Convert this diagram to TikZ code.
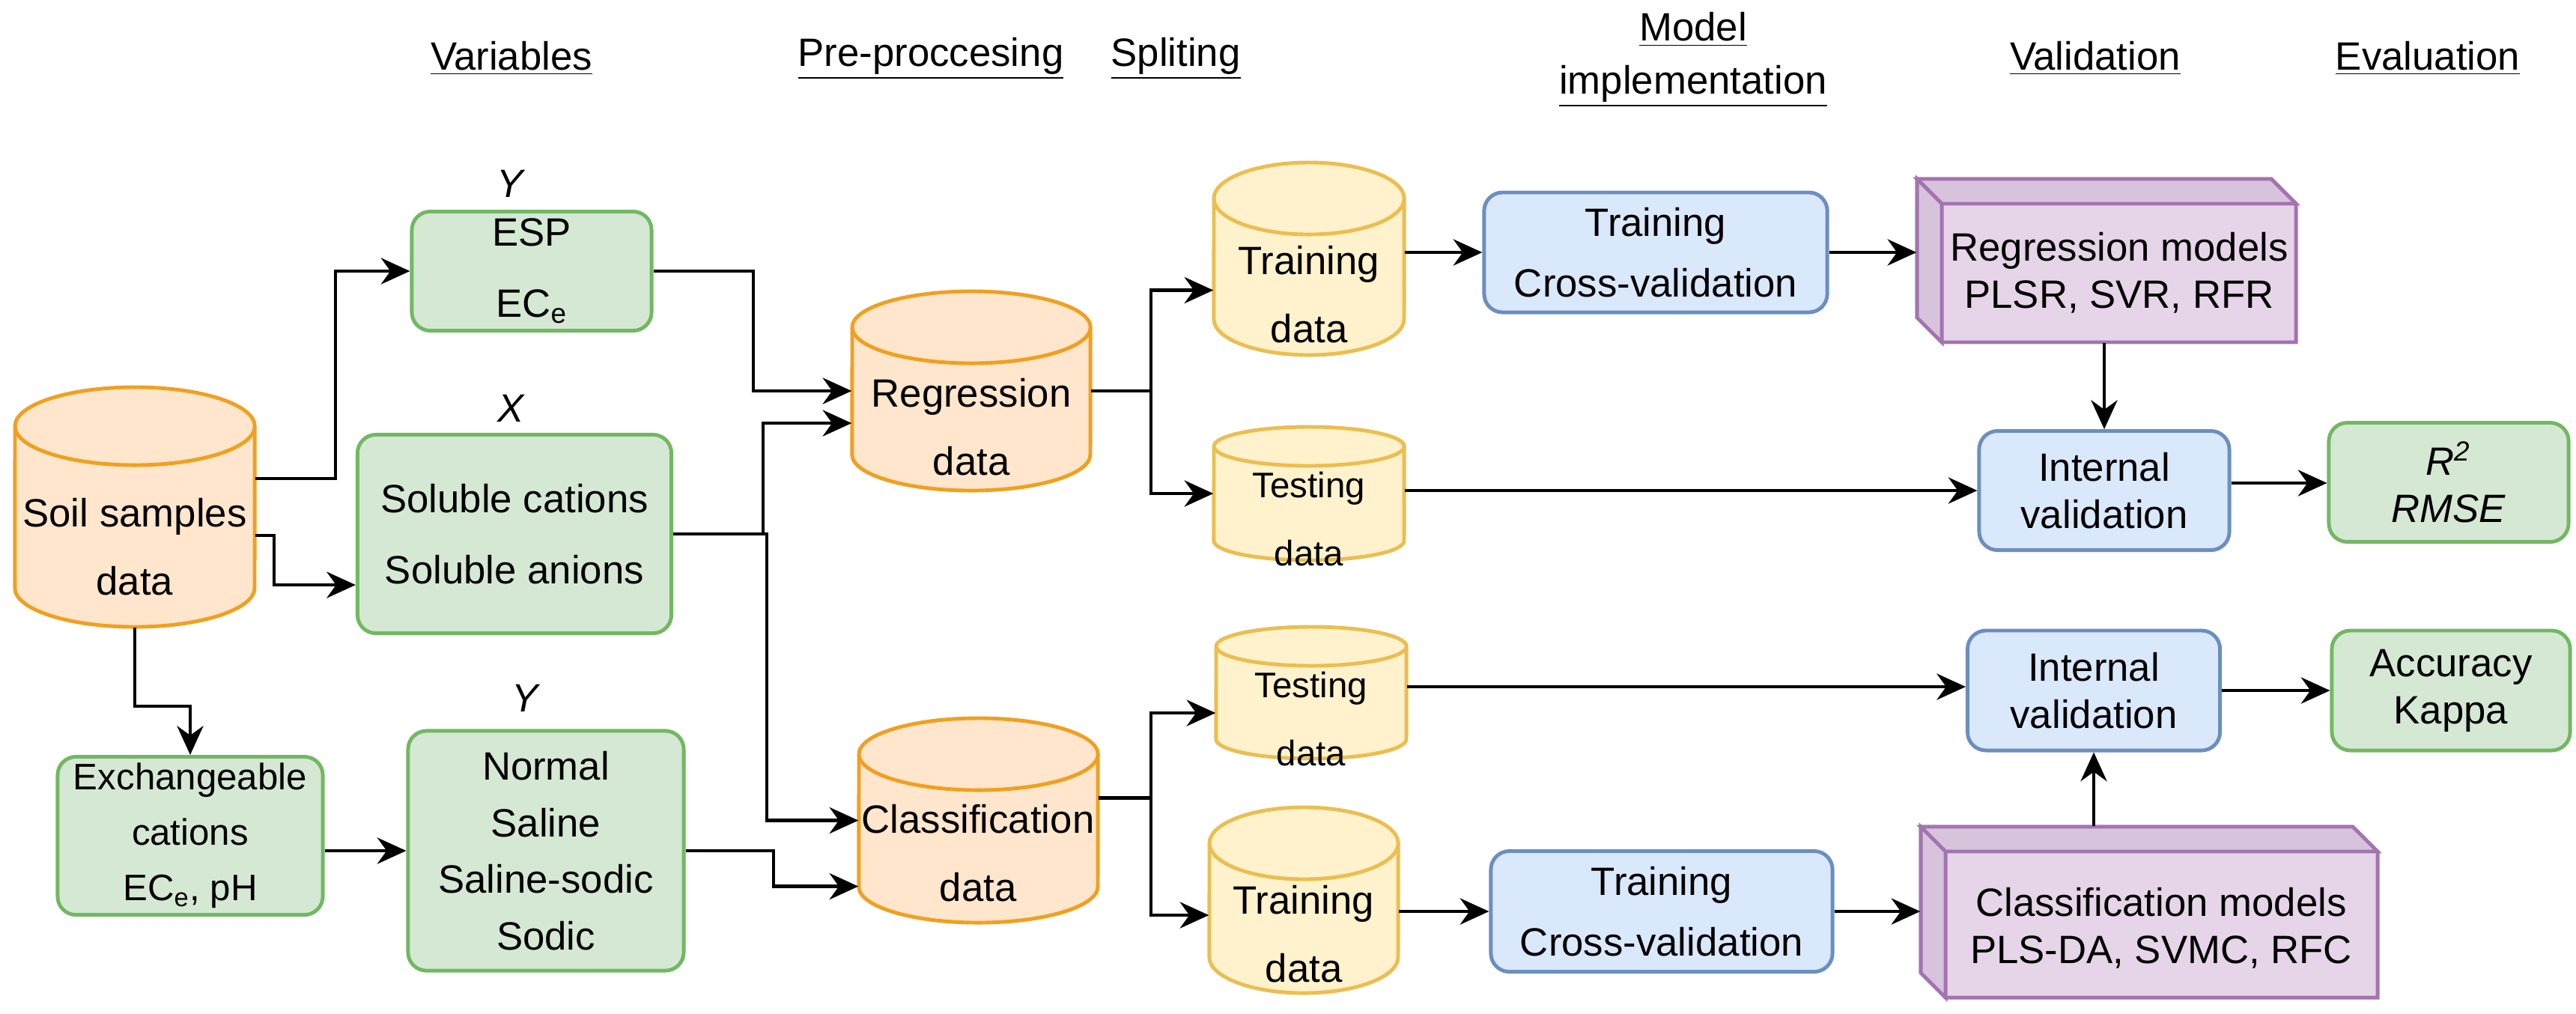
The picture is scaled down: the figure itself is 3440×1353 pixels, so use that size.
\documentclass[tikz,border=0pt]{standalone}
\usepackage{fontspec}
\setmainfont{Liberation Sans}
\usetikzlibrary{arrows.meta}
\definecolor{ofill}{HTML}{FFE6CC}\definecolor{oline}{HTML}{F0A020}
\definecolor{yfill}{HTML}{FFF2CC}\definecolor{yline}{HTML}{EBBE50}
\definecolor{gfill}{HTML}{D5E8D4}\definecolor{gline}{HTML}{72B862}
\definecolor{bfill}{HTML}{DAE8FC}\definecolor{bline}{HTML}{6C8EBF}
\definecolor{pfill}{HTML}{E6D5E8}\definecolor{pdark}{HTML}{D8C3DC}\definecolor{pline}{HTML}{A374B0}
\newcommand\dbcyl[8]{% name x1 y1 x2 y2 ry style textcenter-y ; text via #9 not allowed -> separate
  \pgfmathsetmacro\crx{(#4-#2)/2*0.28453}
  \pgfmathsetmacro\cry{#6*0.28453}
  \filldraw[#7,line width=1.4pt] (#2,-#3-#6) arc[start angle=180,end angle=0,x radius=\crx pt,y radius=\cry pt]
     -- (#4,-#5+#6) arc[start angle=0,end angle=-180,x radius=\crx pt,y radius=\cry pt] -- cycle;
  \draw[#7,line width=1.4pt] (#2,-#3-#6) arc[start angle=180,end angle=360,x radius=\crx pt,y radius=\cry pt];
  \node[draw=none,inner sep=0,minimum width={(#4-#2)*0.01cm},minimum height={(#5-#3)*0.01cm}] (#1) at ({(#2+#4)/2},{-(#3+#5)/2}) {};
}
\newcommand\mycube[6]{% name x1 y1 x2 y2 d
  \filldraw[draw=pline,fill=pfill,line width=1.4pt] (#2,-#3) -- (#4-#6,-#3) -- (#4,-#3-#6) -- (#4,-#5) -- (#2+#6,-#5) -- (#2,-#5+#6) -- cycle;
  \filldraw[draw=pline,fill=pdark,line width=1.4pt] (#2,-#3) -- (#4-#6,-#3) -- (#4,-#3-#6) -- (#2+#6,-#3-#6) -- cycle;
  \filldraw[draw=pline,fill=pdark,line width=1.4pt] (#2,-#3) -- (#2+#6,-#3-#6) -- (#2+#6,-#5) -- (#2,-#5+#6) -- cycle;
  \node[draw=none,inner sep=0,minimum width={(#4-#2)*0.01cm},minimum height={(#5-#3)*0.01cm}] (#1) at ({(#2+#4)/2},{-(#3+#5)/2}) {};
}
\begin{document}
\begin{tikzpicture}[x=0.01cm,y=0.01cm,
  every node/.style={font=\fontsize{15}{22}\selectfont},
  box/.style={rounded corners=7pt,line width=1.4pt,align=center,inner sep=0},
  gbox/.style={box,draw=gline,fill=gfill},
  bbox/.style={box,draw=bline,fill=bfill},
  txt/.style={align=center,inner sep=0},
  arr/.style={line width=1.2pt,-{Stealth[length=11pt,width=10pt]}},
  hdr/.style={align=center,inner sep=0}]
\useasboundingbox (0,0) rectangle (3440,-1353);
% headers
\node[hdr] (h1) at (683,-78) {\underline{Variables}};
\node[hdr] (h2) at (1243,-78) {\underline{Pre-proccesing}};
\node[hdr] (h3) at (1570,-78) {\underline{Spliting}};
\node[hdr] (h4) at (2261,-80) {\underline{Model}\\[-2pt]\underline{implementation}};
\node[hdr] (h5) at (2798,-78) {\underline{Validation}};
\node[hdr] (h6) at (3242,-78) {\underline{Evaluation}};
% labels
\node[txt] (ly1) at (683,-245) {\textit{Y}};
\node[txt] (lx) at (683,-545) {\textit{X}};
\node[txt] (ly2) at (703,-932) {\textit{Y}};
% cylinders
\dbcyl{soil}{20}{517}{340}{837}{52}{draw=oline,fill=ofill}{}
\node[txt,font=\fontsize{15}{26}\selectfont] (soilt) at (180,-730) {Soil samples\\data};
\dbcyl{reg}{1138}{389}{1456}{655}{48}{draw=oline,fill=ofill}{}
\node[txt,font=\fontsize{15}{26}\selectfont] (regt) at (1297,-570) {Regression\\data};
\dbcyl{cls}{1147}{959}{1466}{1232}{48}{draw=oline,fill=ofill}{}
\node[txt,font=\fontsize{15}{26}\selectfont] (clst) at (1306,-1139) {Classification\\data};
\dbcyl{tr1}{1621}{217}{1875}{474}{48}{draw=yline,fill=yfill}{}
\node[txt,font=\fontsize{15}{26}\selectfont] (tr1t) at (1748,-393) {Training\\data};
\dbcyl{te1}{1621}{570}{1875}{748}{26}{draw=yline,fill=yfill}{}
\node[txt,font=\fontsize{13.5}{26}\selectfont] (te1t) at (1748,-693) {Testing\\data};
\dbcyl{te2}{1624}{837}{1878}{1013}{26}{draw=yline,fill=yfill}{}
\node[txt,font=\fontsize{13.5}{26}\selectfont] (te2t) at (1751,-960) {Testing\\data};
\dbcyl{tr2}{1615}{1078}{1867}{1326}{48}{draw=yline,fill=yfill}{}
\node[txt,font=\fontsize{15}{26}\selectfont] (tr2t) at (1741,-1247) {Training\\data};
% boxes
\node[gbox,minimum width=3.2cm,minimum height=1.59cm,font=\fontsize{15}{27}\selectfont] (esp) at (710,-362) {ESP\\EC\textsubscript{e}};
\node[gbox,minimum width=4.19cm,minimum height=2.65cm,font=\fontsize{15}{27}\selectfont] (xbox) at (687,-713) {Soluble cations\\Soluble anions};
\node[gbox,minimum width=3.54cm,minimum height=2.11cm,font=\fontsize{14}{21}\selectfont] (exch) at (254,-1116) {Exchangeable\\cations\\EC\textsubscript{e}, pH};
\node[gbox,minimum width=3.68cm,minimum height=3.2cm,font=\fontsize{15}{21.5}\selectfont] (normal) at (729,-1136) {Normal\\Saline\\Saline-sodic\\Sodic};
\node[bbox,minimum width=4.58cm,minimum height=1.6cm,font=\fontsize{15}{23}\selectfont] (tcv1) at (2211,-337) {Training\\Cross-validation};
\node[bbox,minimum width=4.56cm,minimum height=1.61cm,font=\fontsize{15}{23}\selectfont] (tcv2) at (2219,-1217) {Training\\Cross-validation};
\node[bbox,minimum width=3.34cm,minimum height=1.59cm,font=\fontsize{15}{18}\selectfont] (riv) at (2810,-655) {Internal\\validation};
\node[bbox,minimum width=3.37cm,minimum height=1.6cm,font=\fontsize{15}{18}\selectfont] (civ) at (2796,-922) {Internal\\validation};
\node[gbox,minimum width=3.2cm,minimum height=1.59cm,font=\fontsize{15}{18}\selectfont] (r2) at (3270,-644) {\textit{R}\textsuperscript{\textit{2}}\\\textit{RMSE}};
\node[gbox,minimum width=3.18cm,minimum height=1.6cm,font=\fontsize{15}{18}\selectfont] (acc) at (3273,-922) {Accuracy\\Kappa};
% cubes
\mycube{rcube}{2560}{239}{3066}{457}{33}
\node[txt,font=\fontsize{15}{18}\selectfont] (rcubet) at (2830,-364) {Regression models\\PLSR, SVR, RFR};
\mycube{ccube}{2565}{1104}{3175}{1332}{33}
\node[txt,font=\fontsize{15}{18}\selectfont] (ccubet) at (2886,-1239) {Classification models\\PLS-DA, SVMC, RFC};
% connectors
\draw[arr] ([yshift=0.38cm]soil.east) -- ++(1.07cm,0) |- (esp.west);
\draw[arr] ([yshift=-0.38cm]soil.east) -- ++(0.25cm,0) |- ([yshift=-0.68cm]xbox.west);
\draw[arr] (soil.south) -- ++(0,-1.05cm) -| (exch.north);
\draw[arr] (exch.east |- normal.west) -- (normal.west);
\draw[arr] (esp.east) -- ++(1.33cm,0) |- (reg.west);
\draw[arr] (xbox.east) -- ++(1.2cm,0) |- ([yshift=-0.43cm]reg.west);
\draw[arr] (xbox.east) -- ++(1.25cm,0) |- (cls.west);
\draw[arr] (normal.east) -- ++(1.17cm,0) |- ([yshift=-0.88cm]cls.west);
\draw[arr] (reg.east) -- ++(0.8cm,0) |- ([yshift=-0.42cm]tr1.west);
\draw[arr] (reg.east) -- ++(0.8cm,0) |- (te1.west);
\draw[arr] ([yshift=0.3cm]cls.east) -- ++(0.7cm,0) |- ([yshift=-0.27cm]te2.west);
\draw[arr] ([yshift=0.3cm]cls.east) -- ++(0.7cm,0) |- ([yshift=-0.2cm]tr2.west);
\draw[arr] (tr1.east |- tcv1.west) -- (tcv1.west);
\draw[arr] (tcv1.east) -- (tcv1.east -| rcube.west);
\draw[arr] (riv.north |- rcube.south) -- (riv.north);
\draw[arr] (te1.east |- riv.west) -- (riv.west);
\draw[arr] ([yshift=0.1cm]riv.east) -- ([yshift=0.1cm]riv.east -| r2.west);
\draw[arr] ([yshift=0.05cm]te2.east |- civ.west) -- ([yshift=0.05cm]civ.west);
\draw[arr] (civ.east) -- (civ.east -| acc.west);
\draw[arr] (tr2.east |- tcv2.west) -- (tcv2.west);
\draw[arr] (tcv2.east) -- (tcv2.east -| ccube.west);
\draw[arr] (civ.south |- ccube.north) -- (civ.south);
\end{tikzpicture}
\end{document}
